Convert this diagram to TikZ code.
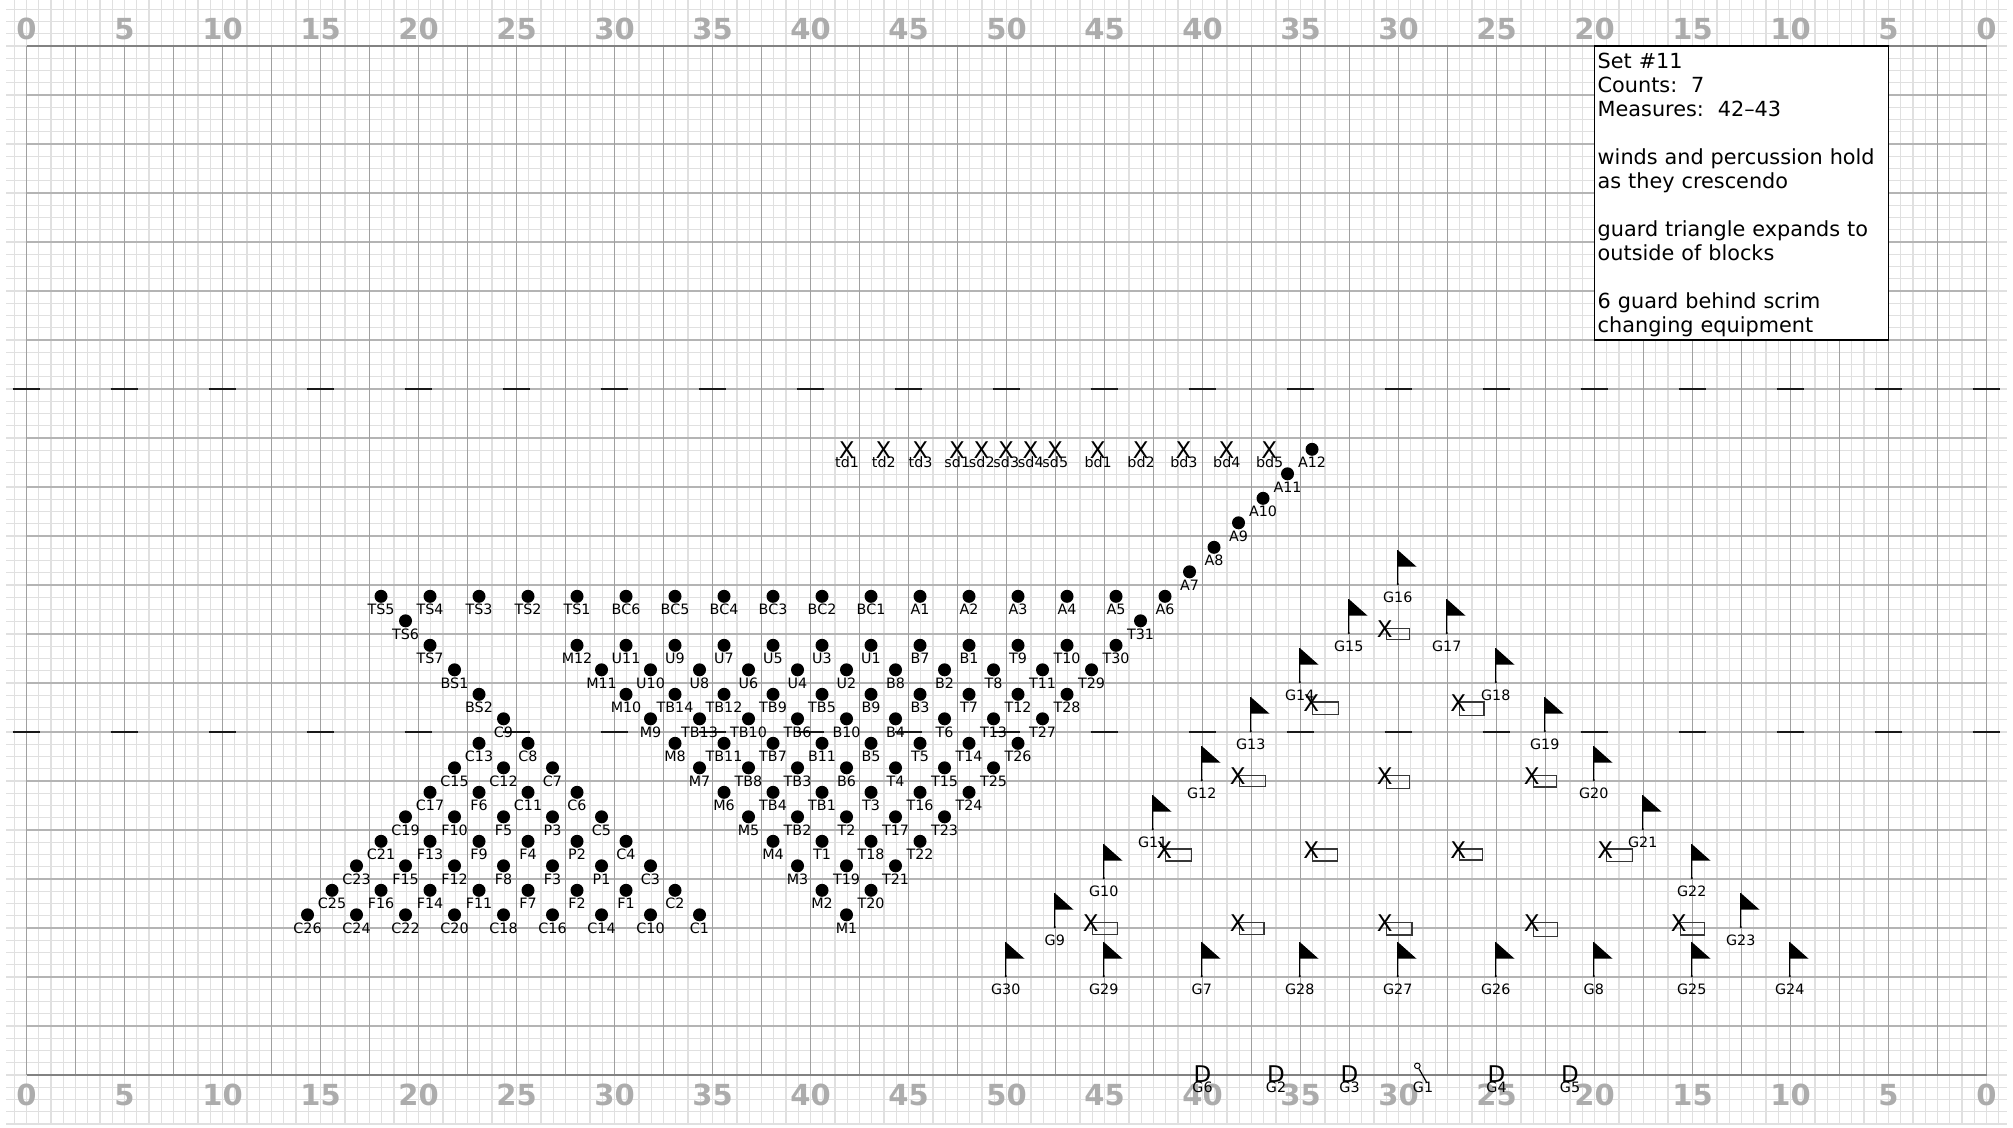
\documentclass[tikz,border=0pt]{standalone}
\usepackage{xcolor}
\usepackage{fontspec}
\setmainfont{DejaVu Sans}
\definecolor{gridlight}{RGB}{224,224,224}
\definecolor{gridmajor}{RGB}{160,160,160}
\definecolor{gridrow}{RGB}{180,180,180}
\definecolor{gridborder}{RGB}{130,130,130}
\definecolor{yardgray}{RGB}{172,172,172}
\definecolor{propgray}{RGB}{55,55,55}
\usetikzlibrary{positioning}
\tikzset{
  minorline/.style={line width=0.6pt, color=gridlight},
  fieldline/.style={line width=0.55pt, color=gridmajor},
  rowline/.style={line width=0.6pt, color=gridrow},
  borderline/.style={line width=0.7pt, color=gridborder},
  hashmark/.style={line width=1.2pt, color=black!90},
  yardnum/.style={text=yardgray, inner sep=0pt, text height=10.6pt, text depth=0pt,
    font=\fontsize{14.5}{14.5}\selectfont\bfseries},
  notebox/.style={draw=black, fill=white, line width=0.6pt, outer sep=0pt,
    minimum width=147pt, minimum height=147pt, inner xsep=1.6pt, inner ysep=0pt,
    text width=143.8pt, align=left, anchor=north west,
    font=\fontsize{10.4}{12}\selectfont},
  dotmark/.style={circle, fill=black, inner sep=0pt, minimum size=6.5pt},
  marklabel/.style={inner sep=0pt, text height=5.2pt, text depth=0pt,
    font=\fontsize{7.15}{7.15}\selectfont},
  xmark/.style={inner sep=0pt, text height=8.4pt, text depth=0pt,
    font=\fontsize{11.5}{11.5}\selectfont},
  flagbase/.style={circle, fill=black, inner sep=0pt, minimum size=1.2pt},
  flagpole/.style={line width=0.6pt, color=black},
  propbox/.style={draw=propgray, line width=0.7pt, inner sep=0pt, outer sep=0pt, anchor=north west}
}
\newcommand{\dotrow}[2]{%
  \foreach \lab/\i in {#2}{%
    \node[dotmark] (\lab) at (\i,#1) {};
    \node[marklabel] (\lab-l) at ([yshift=-6.65pt]\lab.center) {\lab};
  }}
\newcommand{\flagrow}[2]{%
  \foreach \lab/\i in {#2}{%
    \node[flagbase] (\lab) at (\i,#1) {};
    \draw[flagpole] (\lab.center) -- ++(0,-2.78);
    \fill (\lab.center) ++(0,-2.78) -- ++(1.53,1.36) -- ++(-1.53,0) -- cycle;
    \node[marklabel] (\lab-l) at ([yshift=-6.65pt]\lab.center) {\lab};
  }}
\begin{document}
\begin{tikzpicture}[x=6.125pt,y=-6.125pt]
    \useasboundingbox (-2.1633,-3.76) rectangle (162.1633,88.32);
    \foreach \i in {-1,...,161} \draw[minorline] (\i,-3.76) -- (\i,88.1);
    \foreach \j in {-3,...,88} \draw[minorline] (-1.67,\j) -- (161.65,\j);
    \foreach \j in {4,8,...,80} \draw[rowline] (0,\j) -- (160,\j);
    \foreach \i in {0,4,...,160} \draw[fieldline] (\i,0) -- (\i,84);
    \draw[borderline] (0,0) -- (160,0);
    \draw[borderline] (0,84) -- (160,84);
    \foreach \yd [count=\k from 0] in {0,5,10,15,20,25,30,35,40,45,50,45,40,35,30,25,20,15,10,5,0}{
      \node[yardnum] (top\k) at (8*\k,-1.37) {\yd};
      \node[yardnum] (bot\k) at (8*\k,85.6) {\yd};
    }
    \foreach \i in {0,8,...,160}{
      \draw[hashmark] (\i-1.13,28) -- (\i+1.13,28);
      \draw[hashmark] (\i-1.13,56) -- (\i+1.13,56);
    }

    \node[notebox] (setnote) at (128,0) {%
      \rule{0pt}{10.1pt}Set \#11\\
      Counts:\ \ 7\\
      Measures:\ \ 42–43\\
      ~\\
      winds and percussion hold\\
      as they crescendo\\
      ~\\
      guard triangle expands to\\
      outside of blocks\\
      ~\\
      6 guard behind scrim\\
      changing equipment};

    \begin{scope}[shift={(-.06,-.08)}]
      \dotrow{33}{A12/105}
      \dotrow{35}{A11/103}
      \dotrow{37}{A10/101}
      \dotrow{39}{A9/99}
      \dotrow{41}{A8/97}
      \dotrow{43}{A7/95}
      \dotrow{45}{TS5/29,TS4/33,TS3/37,TS2/41,TS1/45,BC6/49,BC5/53,BC4/57,BC3/61,BC2/65,BC1/69,A1/73,A2/77,A3/81,A4/85,A5/89,A6/93}
      \dotrow{47}{TS6/31,T31/91}
      \dotrow{49}{TS7/33,M12/45,U11/49,U9/53,U7/57,U5/61,U3/65,U1/69,B7/73,B1/77,T9/81,T10/85,T30/89}
      \dotrow{51}{BS1/35,M11/47,U10/51,U8/55,U6/59,U4/63,U2/67,B8/71,B2/75,T8/79,T11/83,T29/87}
      \dotrow{53}{BS2/37,M10/49,TB14/53,TB12/57,TB9/61,TB5/65,B9/69,B3/73,T7/77,T12/81,T28/85}
      \dotrow{55}{C9/39,M9/51,TB13/55,TB10/59,TB6/63,B10/67,B4/71,T6/75,T13/79,T27/83}
      \dotrow{57}{C13/37,C8/41,M8/53,TB11/57,TB7/61,B11/65,B5/69,T5/73,T14/77,T26/81}
      \dotrow{59}{C15/35,C12/39,C7/43,M7/55,TB8/59,TB3/63,B6/67,T4/71,T15/75,T25/79}
      \dotrow{61}{C17/33,F6/37,C11/41,C6/45,M6/57,TB4/61,TB1/65,T3/69,T16/73,T24/77}
      \dotrow{63}{C19/31,F10/35,F5/39,P3/43,C5/47,M5/59,TB2/63,T2/67,T17/71,T23/75}
      \dotrow{65}{C21/29,F13/33,F9/37,F4/41,P2/45,C4/49,M4/61,T1/65,T18/69,T22/73}
      \dotrow{67}{C23/27,F15/31,F12/35,F8/39,F3/43,P1/47,C3/51,M3/63,T19/67,T21/71}
      \dotrow{69}{C25/25,F16/29,F14/33,F11/37,F7/41,F2/45,F1/49,C2/53,M2/65,T20/69}
      \dotrow{71}{C26/23,C24/27,C22/31,C20/35,C18/39,C16/43,C14/47,C10/51,C1/55,M1/67}

      \flagrow{44}{G16/112}
      \flagrow{48}{G15/108,G17/116}
      \flagrow{52}{G14/104,G18/120}
      \flagrow{56}{G13/100,G19/124}
      \flagrow{60}{G12/96,G20/128}
      \flagrow{64}{G11/92,G21/132}
      \flagrow{68}{G10/88,G22/136}
      \flagrow{72}{G9/84,G23/140}
      \flagrow{76}{G30/80,G29/88,G7/96,G28/104,G27/112,G26/120,G8/128,G25/136,G24/144}
    \end{scope}

    \foreach \lab/\i in {td1/67,td2/70,td3/73,sd1/76,sd2/78,sd3/80,sd4/82,sd5/84,bd1/87.5,bd2/91,bd3/94.5,bd4/98,bd5/101.5}{
      \node[xmark] (\lab) at (\i-.05,33) {X};
      \node[marklabel] (\lab-l) at ([xshift=.2pt,yshift=-5.85pt]\lab.center) {\lab};
    }

    \foreach \n/\i/\j/\w/\h in {1/111/47.55/23/11,2/105/53.55/26/12.4,3/117/53.55/24.3/13.7,
      4/99/59.55/26/11,5/111/59.55/23/12.7,6/123/59.55/23/11.4,
      7/93/65.55/25.7/12,8/105/65.55/24.7/12,9/117/65.55/23/11,10/129/65.55/25.6/12.3,
      11/87/71.55/25.3/12,12/99/71.55/24.6/12,13/111/71.55/25.6/12.4,14/123/71.55/24.4/13.7,15/135/71.55/24.4/12.4}{
      \node[propbox, minimum width=.5*\w pt, minimum height=.5*\h pt] (box\n) at (\i,\j) {};
      \node[xmark] (prop\n) at ([xshift=-.75pt,yshift=-.35pt]box\n.north west) {X};
    }

    \foreach \lab/\i in {G6/96,G2/102,G3/108,G4/120,G5/126}{
      \node[xmark] (\lab) at (\i,83.9) {D};
      \node[marklabel] (\lab-l) at ([yshift=-6.8pt]\lab.center) {\lab};
    }
    \coordinate (G1) at (114,83.9);
    \node[circle, draw=black, line width=.5pt, inner sep=0pt, minimum size=2.8pt] (batonhead) at ([xshift=-2.85pt,yshift=4pt]G1) {};
    \coordinate (batontail) at ([xshift=1.9pt,yshift=-4.4pt]G1);
    \draw[flagpole] (batonhead) -- (batontail);
    \node[marklabel] (G1-l) at ([yshift=-6.8pt]G1) {G1};
\end{tikzpicture}
\end{document}
